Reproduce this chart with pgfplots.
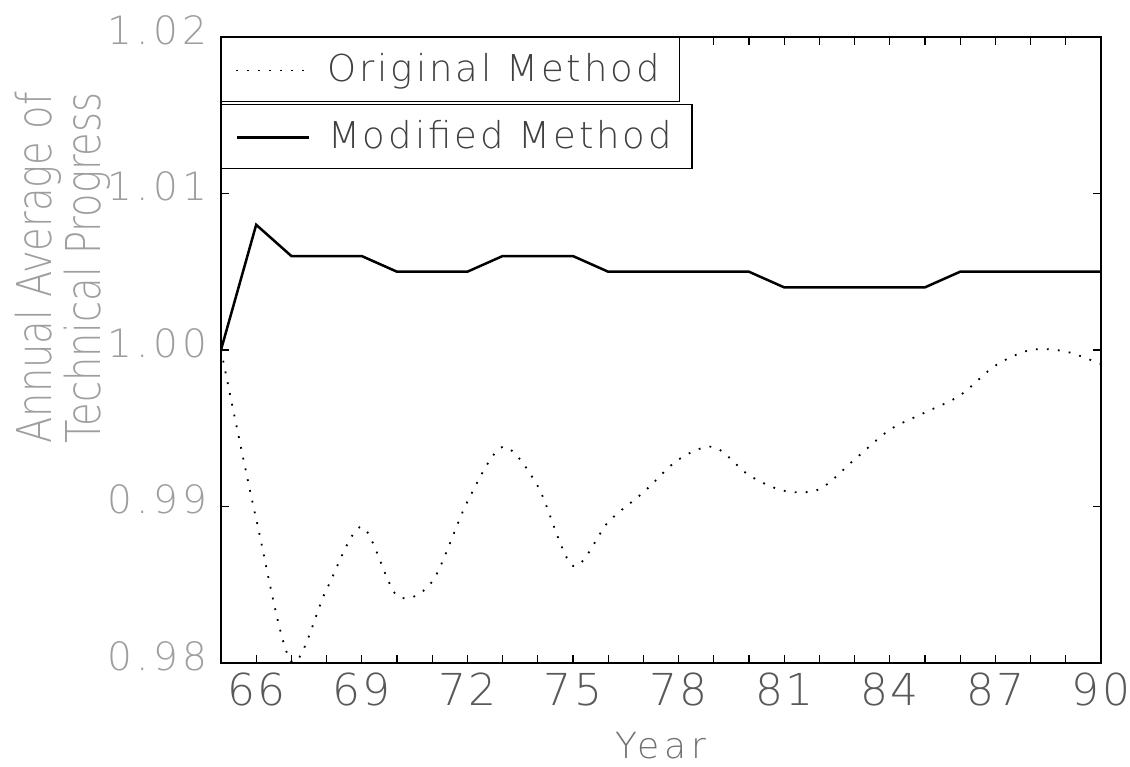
\documentclass[border=0pt]{standalone}
\usepackage{fontspec}
\usepackage{graphicx}
\setmainfont{DejaVu Sans ExtraLight}
\newfontfamily\legfont{DejaVu Sans ExtraLight}[LetterSpace=8]
\newfontfamily\yfont{DejaVu Sans ExtraLight}[LetterSpace=11]
\newfontfamily\xfont{DejaVu Sans ExtraLight}[LetterSpace=5]
\newfontfamily\labfont{DejaVu Sans ExtraLight}[LetterSpace=14]
\usepackage{pgfplots}
\usepackage{pgfplotstable}
\pgfplotsset{compat=1.18}

\definecolor{ylab}{gray}{0.62}
\definecolor{xlab}{gray}{0.35}
\definecolor{legtxt}{gray}{0.25}

% Original method (dotted)
\pgfplotstableread{
year val
65 1.0000
66 0.9892
67 0.9801
68 0.9847
69 0.9887
70 0.9843
71 0.9852
72 0.9903
73 0.9938
74 0.9913
75 0.9862
76 0.9890
77 0.9909
78 0.9930
79 0.9938
80 0.9920
81 0.9910
82 0.9911
83 0.9930
84 0.9949
85 0.9960
86 0.9971
87 0.9990
88 1.0000
89 0.9999
90 0.9991
}\orig

% Modified method (solid)
\pgfplotstableread{
year val
65 1.000
66 1.008
67 1.006
68 1.006
69 1.006
70 1.005
71 1.005
72 1.005
73 1.006
74 1.006
75 1.006
76 1.005
77 1.005
78 1.005
79 1.005
80 1.005
81 1.004
82 1.004
83 1.004
84 1.004
85 1.004
86 1.005
87 1.005
88 1.005
89 1.005
90 1.005
}\modif

\pgfplotsset{
  common/.style={
    width=440pt, height=313pt, scale only axis,
    xmin=65, xmax=90, ymin=0.98, ymax=1.02,
    legend image code/.code={\draw[##1] (0pt,-0.5pt) -- (36pt,-0.5pt);},
    legend style={anchor=north west, draw=black, line width=0.6pt,
      inner xsep=7pt, inner ysep=0pt, column sep=9pt,
      font=\fontsize{18.5}{22}\legfont\color{legtxt},
      nodes={inner sep=0pt, text height=22pt, text depth=10pt}},
  }
}

\begin{document}
\begin{tikzpicture}
\begin{axis}[common, name=ax,
  axis line style={line width=1pt},
  xtick={66,69,...,90}, minor xtick={65,...,90},
  ytick={0.98,0.99,1.00,1.01,1.02},
  tick align=inside, major tick length=4pt, minor tick length=4pt,
  tick style={line width=0.6pt, black},
  /pgf/number format/assume math mode=true,
  yticklabel style={/pgf/number format/fixed, /pgf/number format/fixed zerofill,
    /pgf/number format/precision=2},
  yticklabel style={font=\fontsize{19.5}{22}\yfont, text=ylab,
    inner sep=0pt, xshift=-6.5pt, yshift=3.5pt},
  xticklabel style={font=\fontsize{22}{24}\xfont, text=xlab,
    inner sep=0pt, yshift=-5pt},
  xlabel={Year},
  xlabel style={at={(axis description cs:0.5,-0.152)}, anchor=base,
    font=\fontsize{18}{20}\labfont, text=xlab!85!white},
  ylabel={\scalebox{0.8}[1]{Annual Average of}\\\scalebox{0.8}[1]{Technical Progress}},
  ylabel style={at={(axis description cs:-0.18,0.631)}, anchor=center,
    align=center, font=\fontsize{24}{22.5}\selectfont, text=ylab},
  legend style={at={(0,1)}},
]
\addplot[black, line width=0.9pt, dash pattern=on 0.9pt off 4.6pt, smooth, tension=0.5]
  table[x=year, y=val] {\orig};
\addlegendentry{Original Method\rule{3pt}{0pt}}
\end{axis}
\begin{axis}[common, hide axis, at={(ax.south west)}, anchor=south west,
  legend style={at={(0,0.893)}},
]
\addplot[black, line width=1.25pt] table[x=year, y=val] {\modif};
\addlegendentry{Modified Method\rule{3pt}{0pt}}
\end{axis}
\path[use as bounding box] ([shift={(-110.5pt,-52pt)}]ax.south west)
  rectangle ([shift={(14.5pt,18.5pt)}]ax.north east);
\end{tikzpicture}
\end{document}
